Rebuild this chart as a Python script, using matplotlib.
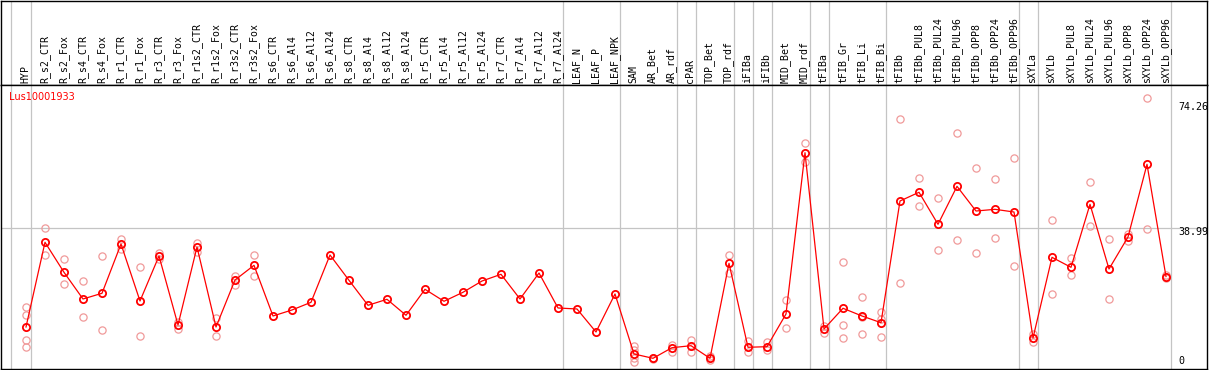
import matplotlib
matplotlib.use("Agg")
import matplotlib.pyplot as plt
import matplotlib.transforms as mtransforms

# ---------------- data ----------------
gene_id = "Lus10001933"

samples = ["HYP", "R_s2_CTR", "R_s2_Fox", "R_s4_CTR", "R_s4_Fox", "R_r1_CTR", "R_r1_Fox",
           "R_r3_CTR", "R_r3_Fox", "R_r1s2_CTR", "R_r1s2_Fox", "R_r3s2_CTR", "R_r3s2_Fox",
           "R_s6_CTR", "R_s6_Al4", "R_s6_Al12", "R_s6_Al24", "R_s8_CTR", "R_s8_Al4",
           "R_s8_Al12", "R_s8_Al24", "R_r5_CTR", "R_r5_Al4", "R_r5_Al12", "R_r5_Al24",
           "R_r7_CTR", "R_r7_Al4", "R_r7_Al12", "R_r7_Al24", "LEAF_N", "LEAF_P", "LEAF_NPK",
           "SAM", "AR_Bet", "AR_rdf", "cPAR", "TOP_Bet", "TOP_rdf", "iFIBa", "iFIBb",
           "MID_Bet", "MID_rdf", "tFIBa", "tFIB_Gr", "tFIB_Li", "tFIB_Bi", "tFIBb",
           "tFIBb_PUL8", "tFIBb_PUL24", "tFIBb_PUL96", "tFIBb_OPP8", "tFIBb_OPP24",
           "tFIBb_OPP96", "sXYLa", "sXYLb", "sXYLb_PUL8", "sXYLb_PUL24", "sXYLb_PUL96",
           "sXYLb_OPP8", "sXYLb_OPP24", "sXYLb_OPP96"]

means = [12.21, 35.19, 27.05, 19.81, 21.36, 34.73, 19.27, 31.48, 12.76, 33.92, 12.21,
         24.96, 28.95, 15.20, 16.83, 18.91, 31.75, 24.88, 18.10, 19.73, 15.39, 22.44,
         19.19, 21.63, 24.69, 26.51, 19.81, 26.86, 17.37, 17.10, 10.86, 21.17, 4.89,
         3.72, 6.60, 7.14, 3.72, 29.49, 6.71, 6.87, 15.74, 59.50, 11.67, 17.29, 15.20,
         13.38, 46.40, 48.76, 40.08, 50.38, 43.68, 44.14, 43.41, 9.23, 31.12, 28.41,
         45.50, 27.95, 36.63, 56.35, 25.90]

replicates = [
    [17.56, 15.39, 8.69, 6.87],   # HYP
    [38.99, 31.66],               # R_s2_CTR
    [30.58, 23.88],               # R_s2_Fox
    [24.69, 14.93],               # R_s4_CTR
    [31.48, 11.32],               # R_s4_Fox
    [36.00, 33.46],               # R_r1_CTR
    [28.60, 9.69],                # R_r1_Fox
    [32.20, 30.76],               # R_r3_CTR
    [13.65, 11.75],               # R_r3_Fox
    [35.10, 32.64],               # R_r1s2_CTR
    [14.57, 9.69],                # R_r1s2_Fox
    [26.05, 23.53],               # R_r3s2_CTR
    [31.67, 25.97],               # R_r3s2_Fox
    [], [], [], [], [], [], [], [], [], [], [], [], [], [], [], [],   # R_s6_CTR .. R_r7_Al24
    [], [], [],                   # LEAF_N, LEAF_P, LEAF_NPK
    [7.14, 5.97, 3.89, 2.64],     # SAM
    [3.90, 3.50],                 # AR_Bet
    [7.33, 5.51],                 # AR_rdf
    [8.77, 5.51],                 # cPAR
    [4.35, 3.26],                 # TOP_Bet
    [31.75, 26.94],               # TOP_rdf
    [8.33, 5.35],                 # iFIBa
    [8.06, 5.97],                 # iFIBb
    [19.54, 11.86],               # MID_Bet
    [62.21, 57.06],               # MID_rdf
    [12.48, 10.67],               # tFIBa
    [29.77, 12.76, 9.15],         # tFIB_Gr
    [20.43, 15.00, 10.23],        # tFIB_Li
    [16.20, 14.50, 9.42],         # tFIB_Bi
    [68.56, 24.07],               # tFIBb
    [52.55, 44.96],               # tFIBb_PUL8
    [47.13, 33.02],               # tFIBb_PUL24
    [64.76, 35.73],               # tFIBb_PUL96
    [55.25, 32.29],               # tFIBb_OPP8
    [52.28, 36.28],               # tFIBb_OPP24
    [57.98, 28.68],               # tFIBb_OPP96
    [10.40, 8.06],                # sXYLa
    [41.16, 21.08],               # sXYLb
    [30.85, 26.24],               # sXYLb_PUL8
    [51.47, 39.53],               # sXYLb_PUL24
    [36.00, 19.73],               # sXYLb_PUL96
    [37.44, 35.63],               # sXYLb_OPP8
    [74.26, 38.72],               # sXYLb_OPP24
    [26.20, 25.60],               # sXYLb_OPP96
]

group_sizes = [1, 28, 3, 3, 1, 2, 1, 1, 2, 1, 3, 7, 1, 7]

axis_labels = ["74.26", "38.99", "0"]
grid_value = 38.99

# ---------------- layout ----------------
W, H = 1209, 370
fig = plt.figure(figsize=(W / 100, H / 100), dpi=100)
fig.patch.set_facecolor("white")

def fx(px):
    return px / W

def fy(py):
    return 1 - py / H

left_px, right_px = 1.3, 1207.3
header_top, header_bot = 0.5, 85.3
plot_bot = 369.0

# pixel mapping of index -> x: 26 + 19*i
xlim = ((left_px - 26) / 19, (right_px - 26) / 19)
# y mapping: 38.99 at px 228.3, 74.26 at px 98.3
k = (228.3 - 98.3) / (74.26 - 38.99)
ylim = (38.99 - (plot_bot - 228.3) / k, 38.99 + (228.3 - header_bot) / k)

ax_h = fig.add_axes([fx(left_px), fy(header_bot), fx(right_px - left_px),
                     (header_bot - header_top) / H])
ax = fig.add_axes([fx(left_px), fy(plot_bot), fx(right_px - left_px),
                   (plot_bot - header_bot) / H])

GRAY = "#c4c4c4"
RED = "#ff0000"
PINK = "#f09a9a"

for a in (ax_h, ax):
    a.set_xlim(*xlim)
    a.set_xticks([])
    a.set_yticks([])
    for s in a.spines.values():
        s.set_color("black")
        s.set_linewidth(1.0)
ax_h.set_ylim(0, 1)
ax.set_ylim(*ylim)

# separators
sep_positions = [-0.78]
cum = -1
for g in group_sizes:
    cum += g
    sep_positions.append(cum + 0.24)
for a in (ax_h, ax):
    for s in sep_positions:
        a.axvline(s, color=GRAY, lw=0.9, zorder=1)

ax.axhline(grid_value, color=GRAY, lw=0.9, zorder=1)

# header labels
trans_h = mtransforms.blended_transform_factory(ax_h.transData, ax_h.transAxes)
for i, name in enumerate(samples):
    ax_h.text(i - 0.03, 0.025, name, rotation=90, ha="center", va="bottom",
              transform=trans_h, family="DejaVu Sans Mono", fontsize=7.1, color="black")

# replicates
xs_r, ys_r = [], []
for i, reps in enumerate(replicates):
    for v in reps:
        xs_r.append(i)
        ys_r.append(v)
ax.plot(xs_r, ys_r, linestyle="none", marker="o", markersize=5.2, markerfacecolor="none",
        markeredgecolor=PINK, markeredgewidth=0.9, zorder=3)

# means
x_idx = list(range(len(samples)))
ax.plot(x_idx, means, color=RED, lw=0.9, zorder=4)
ax.plot(x_idx, means, linestyle="none", marker="o", markersize=5.2, markerfacecolor="none",
        markeredgecolor=RED, markeredgewidth=1.3, zorder=5)

# gene id label
fig.text(fx(9.3), fy(97), gene_id, color=RED, fontsize=7, ha="left", va="center",
         family="DejaVu Sans")

# right-side value labels
label_py = [107.0, 232.3, 361.5]
for lab, py in zip(axis_labels, label_py):
    fig.text(fx(1178), fy(py), lab, ha="left", va="center", fontsize=7.2,
             family="DejaVu Sans Mono", color="black")

fig.savefig("out.png", dpi=100, facecolor="white")
